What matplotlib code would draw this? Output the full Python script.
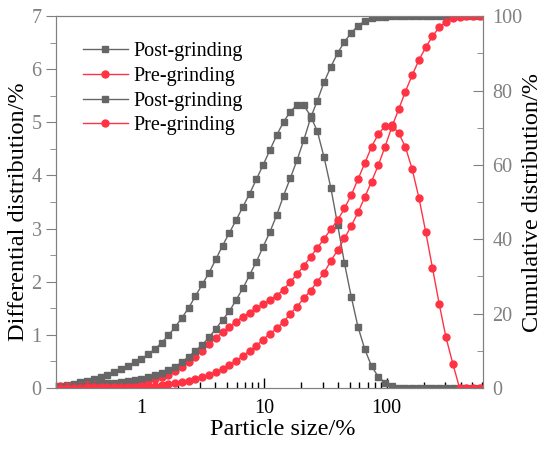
import numpy as np
import matplotlib
matplotlib.use('Agg')
import matplotlib.pyplot as plt
from matplotlib.ticker import LogLocator, NullFormatter, MultipleLocator

plt.rcParams['font.family'] = ['Liberation Serif', 'DejaVu Serif']

# particle size classes
size = [0.2177, 0.2472, 0.2807, 0.3187, 0.3619, 0.4109, 0.4666, 0.5298, 0.6016, 0.6831,
        0.7756, 0.8807, 1.000, 1.136, 1.289, 1.464, 1.663, 1.888, 2.144, 2.434,
        2.764, 3.139, 3.564, 4.047, 4.595, 5.218, 5.925, 6.728, 7.640, 8.675,
        9.845, 11.18, 12.70, 14.42, 16.37, 18.59, 21.11, 23.97, 27.21, 30.90,
        35.09, 39.84, 45.24, 51.37, 58.33, 66.23, 75.20, 85.39, 96.93, 110.1,
        125.0, 141.9, 161.2, 183.0, 207.8, 236.0, 267.9, 304.2, 345.4, 392.2,
        445.4, 505.7, 574.1]

# post-grinding differential (left axis)
post_diff = [0.03, 0.05, 0.08, 0.11, 0.14, 0.17, 0.21, 0.25, 0.30, 0.36,
             0.42, 0.48, 0.55, 0.63, 0.73, 0.85, 0.99, 1.15, 1.32, 1.51,
             1.73, 1.95, 2.17, 2.42, 2.68, 2.92, 3.16, 3.41, 3.66, 3.93,
             4.20, 4.48, 4.76, 5.01, 5.20, 5.33, 5.32, 5.12, 4.83, 4.34,
             3.76, 3.07, 2.35, 1.72, 1.15, 0.73, 0.41, 0.21, 0.10, 0.03,
             0, 0, 0, 0, 0, 0, 0, 0, 0, 0,
             0, 0, 0]

# pre-grinding differential (left axis)
pre_diff = [0.03, 0.03, 0.04, 0.04, 0.05, 0.05, 0.06, 0.07, 0.08, 0.08,
            0.09, 0.10, 0.11, 0.13, 0.16, 0.20, 0.25, 0.31, 0.39, 0.48,
            0.59, 0.70, 0.82, 0.94, 1.05, 1.15, 1.25, 1.34, 1.42, 1.50,
            1.58, 1.66, 1.74, 1.85, 2.00, 2.14, 2.30, 2.47, 2.64, 2.81,
            2.99, 3.16, 3.38, 3.63, 3.93, 4.23, 4.54, 4.78, 4.93, 4.95,
            4.80, 4.54, 4.12, 3.58, 2.94, 2.26, 1.58, 0.95, 0.46, 0,
            0, 0, 0]

# post-grinding cumulative (right axis)
post_cum = [0.2, 0.3, 0.4, 0.5, 0.6, 0.8, 1.0, 1.2, 1.4, 1.6,
            1.9, 2.2, 2.5, 2.9, 3.4, 4.0, 4.8, 5.7, 7.0, 8.4,
            10.0, 11.6, 13.6, 15.9, 18.3, 20.6, 23.7, 26.8, 30.4, 34.0,
            38.0, 42.0, 46.5, 51.7, 56.4, 61.3, 66.7, 72.6, 77.3, 82.3,
            86.4, 90.1, 93.1, 95.5, 97.4, 98.7, 99.4, 99.7, 99.9, 100,
            100, 100, 100, 100, 100, 100, 100, 100, 100, 100,
            100, 100, 100]

# pre-grinding cumulative (right axis)
pre_cum = [0.05, 0.06, 0.08, 0.10, 0.12, 0.14, 0.17, 0.20, 0.23, 0.27,
           0.32, 0.38, 0.45, 0.55, 0.65, 0.8, 1.0, 1.3, 1.5, 1.9,
           2.3, 2.9, 3.5, 4.3, 5.1, 6.2, 7.3, 8.6, 10.0, 11.4,
           13.0, 14.6, 16.0, 17.8, 19.9, 21.9, 24.1, 26.2, 28.6, 31.0,
           34.2, 37.1, 40.2, 43.6, 47.2, 51.3, 55.5, 59.9, 64.9, 70.2,
           74.9, 79.7, 84.1, 88.2, 91.6, 94.6, 97.0, 98.5, 99.4, 99.8,
           100, 100, 100]

grey = '#666666'
red = '#ff3344'
axcol = '#808080'

fig = plt.figure(figsize=(5.5, 4.49), dpi=100)
ax = fig.add_axes([0.101, 0.136, 0.777, 0.828])
ax2 = ax.twinx()

l1, = ax.plot(size, post_diff, '-s', color=grey, lw=1, ms=4, label='Post-grinding')
l2, = ax.plot(size, pre_diff, '-o', color=red, lw=1, ms=5, label='Pre-grinding')
l3, = ax2.plot(size, post_cum, '-s', color=grey, lw=1, ms=4, label='Post-grinding')
l4, = ax2.plot(size, pre_cum, '-o', color=red, lw=1, ms=5, label='Pre-grinding')

ax.set_xscale('log')
ax.set_xlim(0.2, 608)
ax.set_ylim(0, 7)
ax2.set_ylim(0, 100)

ax.set_xticks([1, 10, 100])
ax.set_xticklabels(['1', '10', '100'])
ax.xaxis.set_minor_locator(LogLocator(base=10, subs=np.arange(2, 10)))
ax.xaxis.set_minor_formatter(NullFormatter())
ax.yaxis.set_major_locator(MultipleLocator(1))
ax.yaxis.set_minor_locator(MultipleLocator(0.5))
ax2.yaxis.set_major_locator(MultipleLocator(20))
ax2.yaxis.set_minor_locator(MultipleLocator(10))

ax.tick_params(axis='x', which='major', direction='in', length=7, width=1, color='k',
               labelsize=14.5, labelcolor='k', pad=8)
ax.tick_params(axis='x', which='minor', direction='in', length=4, width=1, color='k')
ax.tick_params(axis='y', which='major', direction='out', length=7, color=axcol,
               labelsize=14.5, labelcolor=axcol, pad=3)
ax.tick_params(axis='y', which='minor', direction='out', length=4, color=axcol)
ax2.tick_params(axis='y', which='major', direction='in', length=7, color=axcol,
                labelsize=14.5, labelcolor=axcol, pad=7)
ax2.tick_params(axis='y', which='minor', direction='in', length=4, color=axcol)

for a in (ax, ax2):
    for s in a.spines.values():
        s.set_color(axcol)

ax.set_xlabel('Particle size/%', fontsize=17.5)
ax.set_ylabel('Differential distribution/%', fontsize=17.5)
ax2.set_ylabel('Cumulative distribution/%', fontsize=17.5)
ax.xaxis.set_label_coords(0.532, -0.083)
ax.yaxis.set_label_coords(-0.062, 0.475)
ax2.yaxis.set_label_coords(1.092, 0.5)

ax2.legend([l1, l2, l3, l4], [l.get_label() for l in (l1, l2, l3, l4)],
           loc='upper left', bbox_to_anchor=(0.064, 0.93), frameon=False,
           fontsize=14.5, handlelength=2.24, handletextpad=0.25, labelspacing=0.28,
           borderpad=0, borderaxespad=0)

fig.savefig('out.png', dpi=100)
